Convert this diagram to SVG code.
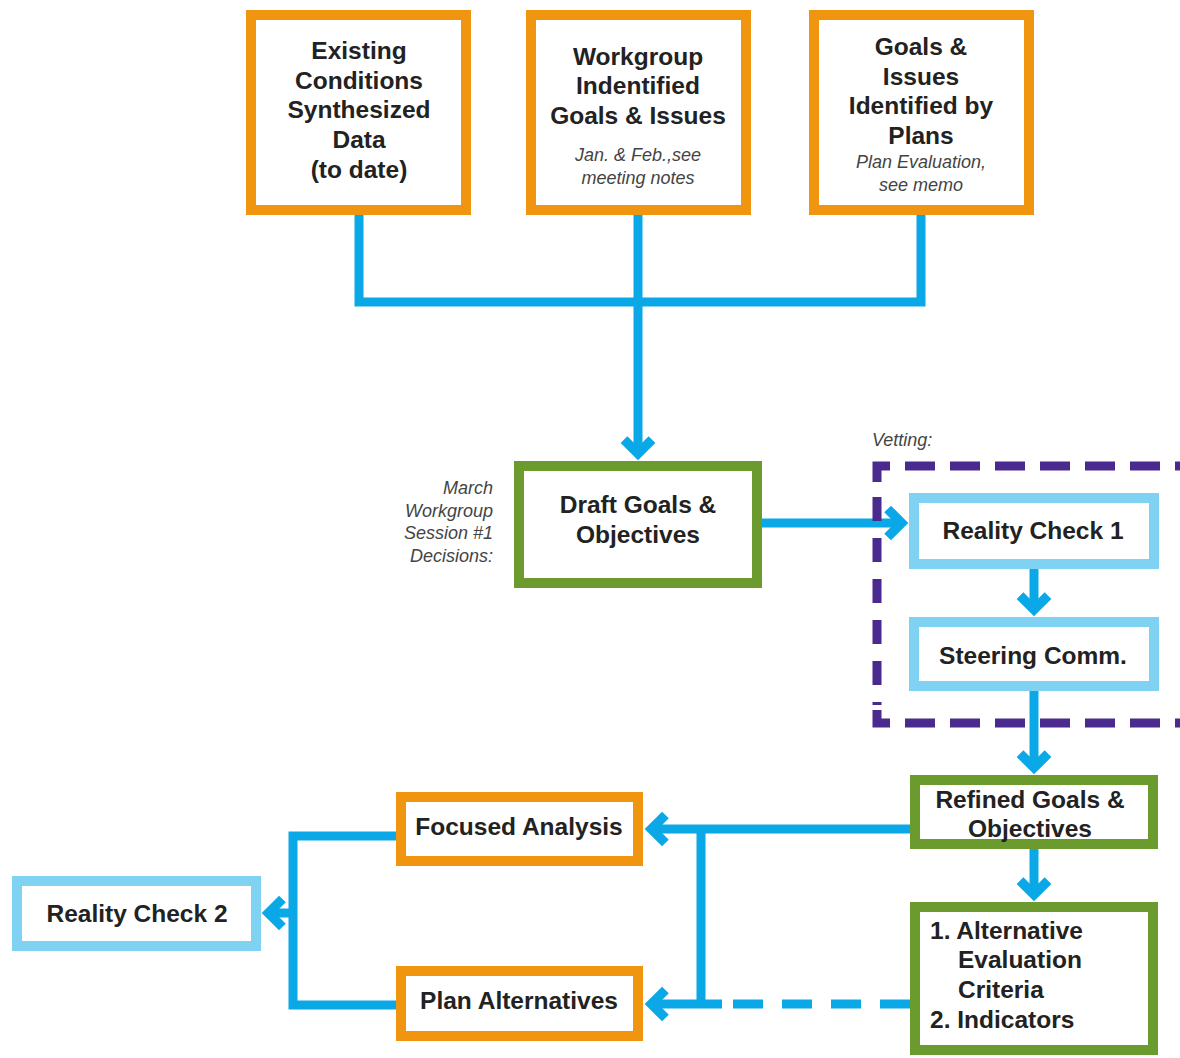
<svg xmlns="http://www.w3.org/2000/svg" width="1180" height="1058" viewBox="0 0 1180 1058">
<style>
  .box{fill:#fff;stroke-width:10}
  .or{stroke:#f0950f}
  .gr{stroke:#6b9b2e}
  .lb{stroke:#80d2f3}
  .t{font-family:"Liberation Sans",Arial,sans-serif;font-weight:bold;font-size:24.5px;fill:#222;text-anchor:middle}
  .s{text-anchor:start}
  .i{font-family:"Liberation Sans",Arial,sans-serif;font-style:italic;font-size:18px;fill:#444}
  .m{text-anchor:middle}
  .e{text-anchor:end}
  .c{fill:none;stroke:#0aa8e6;stroke-width:9}
  .a{marker-end:url(#chev)}
  .v{fill:none;stroke:#4a2a8e;stroke-width:9}
</style>
<defs>
  <marker id="chev" viewBox="0 0 32 32" markerWidth="32" markerHeight="32" refX="19.4" refY="16" orient="auto" markerUnits="userSpaceOnUse" overflow="visible">
    <path d="M7,2 L21,16 L7,30" fill="none" stroke="#0aa8e6" stroke-width="9.5" stroke-linejoin="miter"/>
  </marker>
</defs>
<rect width="1180" height="1058" fill="#fff"/>

<g id="connectors">
  <path class="c" d="M359,215 V302 H921 V215"/>
  <path class="c a" d="M638,215 V452"/>
  <path class="c a" d="M762,523 H900"/>
  <path class="c a" d="M1034,569 V608"/>
  <path class="c a" d="M1034,691 V766"/>
  <path class="c a" d="M1034,849 V893"/>
  <path class="c a" d="M910,829 H653"/>
  <path class="c" d="M701,829 V1008"/>
  <path class="c a" d="M722,1004 H653"/>
  <path class="c" d="M910,1004 H722" stroke-dasharray="30 19"/>
  <path class="c" d="M396,836 H293 V1005 H396"/>
  <path class="c a" d="M293,913 H270"/>
</g>

<g id="vetting">
  <path class="v" d="M890,466 H877 V482"/>
  <path class="v" d="M905,466 H1185" stroke-dasharray="30 15"/>
  <path class="v" d="M877,497 V705" stroke-dasharray="24 17"/>
  <path class="v" d="M877,710 V723 H890"/>
  <path class="v" d="M905,723 H1185" stroke-dasharray="30 15"/>
  <text class="i" x="872" y="446">Vetting:</text>
</g>

<g id="existing">
  <rect class="box or" x="251" y="15" width="215" height="195"/>
  <text class="t" x="359" y="59">Existing</text>
  <text class="t" x="359" y="89">Conditions</text>
  <text class="t" x="359" y="118">Synthesized</text>
  <text class="t" x="359" y="148">Data</text>
  <text class="t" x="359" y="178">(to date)</text>
</g>

<g id="workgroup">
  <rect class="box or" x="531" y="15" width="215" height="195"/>
  <text class="t" x="638" y="65">Workgroup</text>
  <text class="t" x="638" y="94">Indentified</text>
  <text class="t" x="638" y="124">Goals &amp; Issues</text>
  <text class="i m" x="638" y="161">Jan. &amp; Feb.,see</text>
  <text class="i m" x="638" y="184">meeting notes</text>
</g>

<g id="plans">
  <rect class="box or" x="814" y="15" width="215" height="195"/>
  <text class="t" x="921" y="55">Goals &amp;</text>
  <text class="t" x="921" y="85">Issues</text>
  <text class="t" x="921" y="114">Identified by</text>
  <text class="t" x="921" y="144">Plans</text>
  <text class="i m" x="921" y="168">Plan Evaluation,</text>
  <text class="i m" x="921" y="191">see memo</text>
</g>

<g id="march">
  <text class="i e" x="493" y="494">March</text>
  <text class="i e" x="493" y="517">Workgroup</text>
  <text class="i e" x="493" y="539">Session #1</text>
  <text class="i e" x="493" y="562">Decisions:</text>
</g>

<g id="draft">
  <rect class="box gr" x="519" y="466" width="238" height="117"/>
  <text class="t" x="638" y="513">Draft Goals &amp;</text>
  <text class="t" x="638" y="543">Objectives</text>
</g>

<g id="rc1">
  <rect class="box lb" x="914" y="498" width="240" height="66"/>
  <text class="t" x="1033" y="539">Reality Check 1</text>
</g>

<g id="steering">
  <rect class="box lb" x="914" y="622" width="240" height="64"/>
  <text class="t" x="1033" y="664">Steering Comm.</text>
</g>

<g id="refined">
  <rect class="box gr" x="915" y="780" width="238" height="64"/>
  <text class="t" x="1030" y="808">Refined Goals &amp;</text>
  <text class="t" x="1030" y="837">Objectives</text>
</g>

<g id="criteria">
  <rect class="box gr" x="915" y="907" width="238" height="143"/>
  <text class="t s" x="930" y="939">1. Alternative</text>
  <text class="t s" x="958" y="968">Evaluation</text>
  <text class="t s" x="958" y="998">Criteria</text>
  <text class="t s" x="930" y="1028">2. Indicators</text>
</g>

<g id="focused">
  <rect class="box or" x="401" y="797" width="237" height="64"/>
  <text class="t" x="519" y="835">Focused Analysis</text>
</g>

<g id="planalt">
  <rect class="box or" x="401" y="971" width="237" height="65"/>
  <text class="t" x="519" y="1009">Plan Alternatives</text>
</g>

<g id="rc2">
  <rect class="box lb" x="17" y="881" width="239" height="65"/>
  <text class="t" x="137" y="922">Reality Check 2</text>
</g>
</svg>
